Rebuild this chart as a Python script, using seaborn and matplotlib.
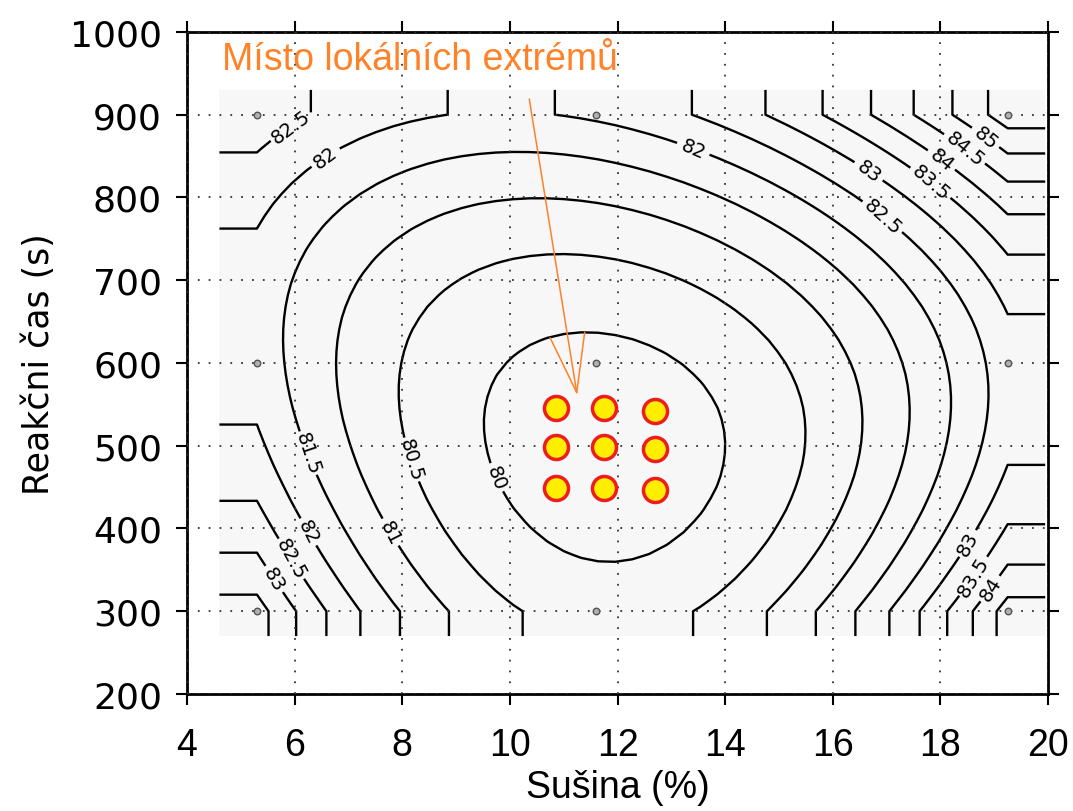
import numpy as np
import matplotlib
matplotlib.use("Agg")
import matplotlib.pyplot as plt
from matplotlib import font_manager
import seaborn as sns

# Design points (dry matter %, reaction time s) and measured response
dry_matter = [5.3, 11.6, 19.25]
reaction_time = [300, 600, 900]
response = [
    [83.72, 80.30, 84.74],   # 300 s
    [81.80, 79.87, 82.80],   # 600 s
    [82.85, 82.09, 85.79],   # 900 s
]

# Points around the local extreme
opt_x = [10.85, 11.75, 12.70, 10.85, 11.75, 12.70, 10.85, 11.75, 12.70]
opt_y = [545, 545, 542, 498, 498, 496, 449, 449, 446]

levels = np.arange(80.0, 86.0, 0.5)
x_ticks = [4, 6, 8, 10, 12, 14, 16, 18, 20]
y_ticks = [200, 300, 400, 500, 600, 700, 800, 900, 1000]

sns.set_style("ticks")

installed = {f.name for f in font_manager.fontManager.ttflist}
narrow = "Liberation Sans Narrow" if "Liberation Sans Narrow" in installed else "Liberation Sans"

# Quadratic interpolation through the 3x3 design, first along x then along y
xs = np.linspace(dry_matter[0], dry_matter[-1], 45)
ys = np.linspace(reaction_time[0], reaction_time[-1], 45)
rows = np.array([np.polyval(np.polyfit(dry_matter, r, 2), xs) for r in response])
Z = np.array([np.polyval(np.polyfit(reaction_time, rows[:, i], 2), ys)
              for i in range(len(xs))]).T

# Extend the grid by 5 % of its range on every side
px = 0.05 * (xs[-1] - xs[0])
py = 0.05 * (ys[-1] - ys[0])
xe = np.concatenate([[xs[0] - px], xs, [xs[-1] + px]])
ye = np.concatenate([[ys[0] - py], ys, [ys[-1] + py]])
Ze = np.pad(Z, 1, mode="edge")
XX, YY = np.meshgrid(xe, ye)

fig = plt.figure(figsize=(10.73, 8.12), dpi=100)
ax = fig.add_axes([0.1743, 0.1441, 0.8024, 0.8153])

ax.contourf(XX, YY, Ze, levels=[Ze.min() - 1, Ze.max() + 1],
            colors=["#f7f7f7"], zorder=0)
cs = ax.contour(XX, YY, Ze, levels=levels, colors="black",
                linewidths=1.7, zorder=2)
ax.clabel(cs, levels=levels[:-1], fmt="%g", fontsize=14, inline=True,
          inline_spacing=6)

dx, dy = np.meshgrid(dry_matter, reaction_time)
ax.scatter(dx.ravel(), dy.ravel(), s=22, facecolor="#b0b0b0",
           edgecolor="#555555", linewidth=1.0, zorder=3)

sns.scatterplot(x=opt_x, y=opt_y, ax=ax, s=300, color="#ffee00",
                edgecolor="#ee1c1c", linewidth=2.5, marker="o", zorder=4)

ax.text(4.65, 967, "Místo lokálních extrémů", color="#ff8228",
        fontsize=27, family=["Liberation Sans", "DejaVu Sans"],
        ha="left", va="center", zorder=5)
ax.annotate("", xy=(11.25, 561), xytext=(10.36, 919),
            arrowprops=dict(arrowstyle="->,head_length=2.0,head_width=0.6",
                            color="#ff8228", lw=1.1, shrinkA=0, shrinkB=0,
                            mutation_scale=21),
            zorder=5)

ax.set_xlim(4, 20)
ax.set_ylim(200, 1000)
ax.set_xticks(x_ticks)
ax.set_yticks(y_ticks)
ax.grid(True, color="#333333", linestyle=(0, (1, 5)), linewidth=1.3, zorder=1)
ax.set_axisbelow(False)
for sp in ax.spines.values():
    sp.set_linewidth(2)
    sp.set_color("black")
    sp.set_visible(True)

ax.tick_params(direction="out", length=8, width=1.5, top=True, right=True,
               labeltop=False, labelright=False, colors="black")
ax.tick_params(axis="y", pad=10, labelsize=26, labelfontfamily="DejaVu Sans")
ax.tick_params(axis="x", pad=16, labelsize=27, labelfontfamily=narrow)

ax.set_xlabel("Sušina (%)", fontsize=27, color="black",
              family=[narrow, "DejaVu Sans"], labelpad=4)
ax.set_ylabel("Reakčni čas (s)", fontsize=25, color="black",
              family="DejaVu Sans", labelpad=10)

fig.savefig("out.png", dpi=100)
